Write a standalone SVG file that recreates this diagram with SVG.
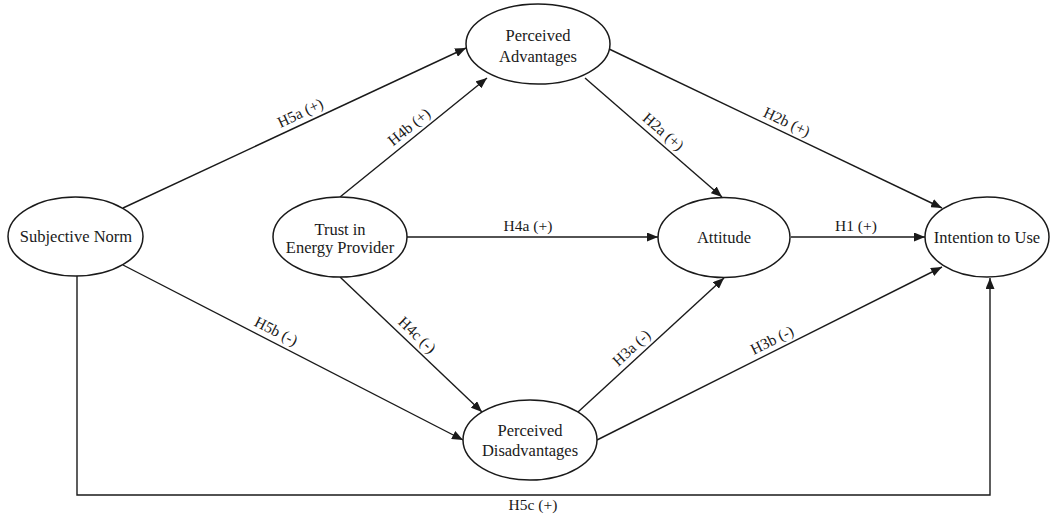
<svg xmlns="http://www.w3.org/2000/svg" width="1051" height="515" viewBox="0 0 1051 515">
  <style>
    .node ellipse { fill: #ffffff; stroke: #1a1a1a; stroke-width: 1.5; }
    .node text { font-family: "Liberation Serif", "Times New Roman", serif; font-size: 16.5px; fill: #1a1a1a; text-anchor: middle; }
    .edge { fill: none; stroke: #1a1a1a; stroke-width: 1.4; }
    .arrow { marker-end: url(#head); }
    .lbl { font-family: "Liberation Serif", "Times New Roman", serif; font-size: 15.5px; fill: #1a1a1a; text-anchor: middle; }
  </style>
  <defs>
    <marker id="head" markerUnits="userSpaceOnUse" markerWidth="12" markerHeight="9" refX="11" refY="4.5" orient="auto">
      <path d="M0,0 L11,4.5 L0,9 z" fill="#1a1a1a"/>
    </marker>
  </defs>
  <rect width="1051" height="515" fill="#ffffff"/>

  <!-- connectors -->
  <g id="connectors">
    <line class="edge arrow" x1="123" y1="208" x2="466" y2="48"/>
    <line class="edge arrow" x1="340" y1="197" x2="487" y2="78"/>
    <line class="edge arrow" x1="585" y1="78" x2="722" y2="197"/>
    <line class="edge arrow" x1="607" y1="48" x2="942" y2="208"/>
    <line class="edge arrow" x1="407" y1="237" x2="658" y2="237"/>
    <line class="edge arrow" x1="791" y1="237" x2="925" y2="237"/>
    <line class="edge arrow" x1="123" y1="265" x2="463" y2="440"/>
    <line class="edge arrow" x1="340" y1="277" x2="482" y2="412"/>
    <line class="edge arrow" x1="578" y1="412" x2="724" y2="278"/>
    <line class="edge arrow" x1="597" y1="440" x2="942" y2="267"/>
    <polyline class="edge arrow" points="77,276 77,495 990,495 990,278"/>

    <!-- hypothesis labels -->
    <text class="lbl" transform="translate(305,123) rotate(-25.1)" y="-6">H5a (+)</text>
    <text class="lbl" transform="translate(416,135.5) rotate(-39)" y="-6">H4b (+)</text>
    <text class="lbl" transform="translate(656,140) rotate(41)" y="-6">H2a (+)</text>
    <text class="lbl" transform="translate(782,132) rotate(25.5)" y="-6">H2b (+)</text>
    <text class="lbl" x="528" y="231">H4a (+)</text>
    <text class="lbl" x="856" y="231">H1 (+)</text>
    <text class="lbl" transform="translate(271,341) rotate(27.2)" y="-6">H5b (-)</text>
    <text class="lbl" transform="translate(409.5,343) rotate(43.6)" y="-6">H4c (-)</text>
    <text class="lbl" transform="translate(639,356) rotate(-42.6)" y="-6">H3a (-)</text>
    <text class="lbl" transform="translate(777,350) rotate(-26.6)" y="-6">H3b (-)</text>
    <text class="lbl" x="533" y="510">H5c (+)</text>
  </g>

  <!-- constructs -->
  <g id="subjective-norm" class="node">
    <ellipse cx="75.5" cy="236.5" rx="67.5" ry="39.5"/>
    <text x="76" y="242">Subjective Norm</text>
  </g>
  <g id="trust" class="node">
    <ellipse cx="340" cy="237" rx="67" ry="40"/>
    <text x="340" y="235">Trust in</text>
    <text x="340" y="253">Energy Provider</text>
  </g>
  <g id="perceived-advantages" class="node">
    <ellipse cx="538" cy="44" rx="72" ry="40"/>
    <text x="538" y="41">Perceived</text>
    <text x="538" y="62">Advantages</text>
  </g>
  <g id="attitude" class="node">
    <ellipse cx="724" cy="237.5" rx="66" ry="40"/>
    <text x="724" y="243">Attitude</text>
  </g>
  <g id="intention" class="node">
    <ellipse cx="987" cy="237" rx="62" ry="40"/>
    <text x="987" y="243">Intention to Use</text>
  </g>
  <g id="perceived-disadvantages" class="node">
    <ellipse cx="530" cy="440" rx="67" ry="40"/>
    <text x="530" y="436">Perceived</text>
    <text x="530" y="456">Disadvantages</text>
  </g>
</svg>
